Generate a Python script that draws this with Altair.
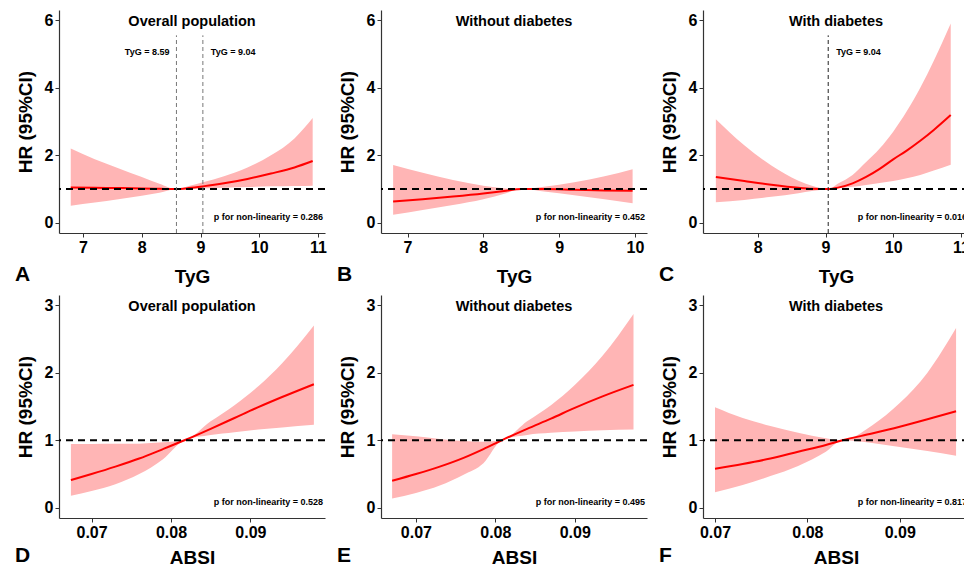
import altair as alt
import pandas as pd

FONT = "Liberation Sans"
W, H = 266, 223

# ---------------- data ----------------
# A: TyG, overall population
a_x = [6.79, 7.2, 7.6, 8.0, 8.3, 8.59, 8.8, 9.04, 9.4, 9.8, 10.2, 10.6, 10.91]
a_hr = [1.05, 1.04, 1.03, 1.02, 1.01, 1.00, 1.03, 1.08, 1.17, 1.30, 1.46, 1.64, 1.83]
a_lo = [0.51, 0.60, 0.70, 0.80, 0.89, 1.00, 1.01, 1.02, 1.04, 1.06, 1.08, 1.09, 1.10]
a_hi = [2.20, 1.88, 1.62, 1.36, 1.16, 1.00, 1.09, 1.20, 1.38, 1.64, 2.00, 2.50, 3.10]

# B: TyG, without diabetes
b_x = [6.81, 7.2, 7.6, 8.0, 8.3, 8.5, 8.8, 9.2, 9.6, 9.97]
b_hr = [0.63, 0.70, 0.78, 0.87, 0.95, 1.00, 1.00, 0.98, 0.96, 0.95]
b_lo = [0.24, 0.38, 0.53, 0.70, 0.88, 1.00, 0.93, 0.82, 0.70, 0.58]
b_hi = [1.71, 1.48, 1.27, 1.10, 1.02, 1.00, 1.07, 1.20, 1.38, 1.59]

# C: TyG, with diabetes
c_x = [7.38, 7.8, 8.2, 8.6, 8.8, 9.04, 9.2, 9.4, 9.6, 9.8, 10.0, 10.2, 10.4, 10.6, 10.85]
c_hr = [1.36, 1.24, 1.13, 1.04, 1.01, 1.00, 1.05, 1.17, 1.36, 1.60, 1.88, 2.14, 2.43, 2.75, 3.19]
c_lo = [0.61, 0.68, 0.77, 0.88, 0.94, 1.00, 1.03, 1.07, 1.12, 1.18, 1.24, 1.32, 1.42, 1.55, 1.72]
c_hi = [3.07, 2.30, 1.70, 1.25, 1.10, 1.00, 1.18, 1.42, 1.80, 2.20, 2.70, 3.30, 4.00, 4.80, 5.90]

# D: ABSI, overall population
d_x = [0.0674, 0.070, 0.073, 0.076, 0.079, 0.0817, 0.085, 0.088, 0.091, 0.094, 0.098]
d_hr = [0.41, 0.50, 0.61, 0.73, 0.87, 1.00, 1.17, 1.33, 1.49, 1.64, 1.83]
d_lo = [0.18, 0.25, 0.35, 0.50, 0.72, 1.00, 1.08, 1.12, 1.16, 1.19, 1.23]
d_hi = [0.945, 0.945, 0.947, 0.95, 0.97, 1.00, 1.28, 1.52, 1.80, 2.14, 2.70]

# E: ABSI, without diabetes
e_x = [0.067, 0.070, 0.073, 0.076, 0.0785, 0.0808, 0.084, 0.087, 0.090, 0.0935, 0.0974]
e_hr = [0.40, 0.50, 0.61, 0.74, 0.87, 1.00, 1.17, 1.32, 1.48, 1.65, 1.82]
e_lo = [0.14, 0.22, 0.33, 0.49, 0.66, 1.00, 1.08, 1.11, 1.13, 1.15, 1.16]
e_hi = [1.09, 1.06, 1.02, 0.99, 0.98, 1.00, 1.28, 1.52, 1.82, 2.25, 2.87]

# F: ABSI, with diabetes
f_x = [0.070, 0.073, 0.076, 0.079, 0.082, 0.0838, 0.087, 0.090, 0.093, 0.0961]
f_hr = [0.58, 0.65, 0.73, 0.83, 0.93, 1.00, 1.10, 1.20, 1.31, 1.43]
f_lo = [0.23, 0.34, 0.47, 0.62, 0.83, 1.00, 0.96, 0.90, 0.84, 0.77]
f_hi = [1.49, 1.33, 1.21, 1.11, 1.03, 1.00, 1.22, 1.55, 2.00, 2.66]

titles = ["Overall population", "Without diabetes", "With diabetes"]
letters = ["A", "B", "C", "D", "E", "F"]
p_values = ["0.286", "0.452", "0.016", "0.528", "0.495", "0.817"]
tyg_ticks = [[7, 8, 9, 10, 11], [7, 8, 9, 10], [8, 9, 10, 11]]
absi_ticks = [0.07, 0.08, 0.09]
top_yticks = [0, 2, 4, 6]
bot_yticks = [0, 1, 2, 3]
HR_REF = 1
a_cut = [8.59, 9.04]
c_cut = [9.04]
cut_label_y = 5.05
cut_line_top = 5.55

x_domains = [[6.59, 11.12], [6.65, 10.16], [7.19, 11.12],
             [0.0659, 0.0994], [0.0656, 0.0991], [0.0687, 0.0975]]
top_ydom = [-0.3, 6.3]
bot_ydom = [-0.15, 3.15]


def panel(x, hr, lo, hi, xdom, xticks, xfmt, ydom, yticks, xtitle, title,
          letter, pval, cuts=None, cut_color="#666", tpad=12, lety=48):
    df = pd.DataFrame({"x": x, "hr": hr, "lo": lo, "hi": hi})
    xs = alt.Scale(domain=xdom, nice=False, zero=False)
    ys = alt.Scale(domain=ydom, nice=False, zero=False)
    base = alt.Chart(df)
    band = base.mark_area(color="#FFB5B5", opacity=1, interpolate="monotone").encode(
        x=alt.X("x:Q", scale=xs,
                axis=alt.Axis(values=xticks, format=xfmt, title=xtitle,
                              titlePadding=tpad)),
        y=alt.Y("lo:Q", scale=ys,
                axis=alt.Axis(values=yticks, format="d", title="HR (95%CI)",
                              titlePadding=9)),
        y2="hi:Q",
    )
    line = base.mark_line(color="#FF0000", strokeWidth=2, interpolate="monotone").encode(
        x="x:Q", y="hr:Q")
    ref = alt.Chart(pd.DataFrame({"ref": [HR_REF]})).mark_rule(
        color="black", strokeWidth=2, strokeDash=[7, 5]).encode(y="ref:Q")
    layers = [band, line, ref]
    if cuts:
        cdf = pd.DataFrame({"x": cuts, "y0": [ydom[0]] * len(cuts),
                            "y1": [cut_line_top] * len(cuts),
                            "ly": [cut_label_y] * len(cuts),
                            "lab": [f"TyG = {c:.2f}" for c in cuts]})
        vr = alt.Chart(cdf).mark_rule(color=cut_color, strokeWidth=1,
                                      strokeDash=[4, 3]).encode(
            x="x:Q", y="y0:Q", y2="y1:Q")
        layers.append(vr)
        if len(cuts) == 2:
            left = alt.Chart(cdf.iloc[[0]]).mark_text(
                align="right", dx=-7, font=FONT, fontWeight="bold", fontSize=9,
                color="black", baseline="middle").encode(
                x="x:Q", y="ly:Q", text="lab:N")
            right = alt.Chart(cdf.iloc[[1]]).mark_text(
                align="left", dx=8, font=FONT, fontWeight="bold", fontSize=9,
                color="black", baseline="middle").encode(
                x="x:Q", y="ly:Q", text="lab:N")
            layers += [left, right]
        else:
            right = alt.Chart(cdf).mark_text(
                align="left", dx=8, font=FONT, fontWeight="bold", fontSize=9,
                color="black", baseline="middle").encode(
                x="x:Q", y="ly:Q", text="lab:N")
            layers.append(right)
    ttl = alt.Chart(pd.DataFrame({"t": [title]})).mark_text(
        font=FONT, fontWeight="bold", fontSize=14.5, color="black",
        align="center", baseline="middle").encode(
        text="t:N", x=alt.value(W / 2), y=alt.value(12))
    ptxt = alt.Chart(pd.DataFrame({"t": [f"p for non-linearity = {pval}"]})).mark_text(
        font=FONT, fontWeight="bold", fontSize=9, color="black",
        align="right", baseline="middle").encode(
        text="t:N", x=alt.value(W - 2), y=alt.value(H - 16))
    let = alt.Chart(pd.DataFrame({"t": [letter]})).mark_text(
        font=FONT, fontWeight="bold", fontSize=21, color="black",
        align="left", baseline="alphabetic").encode(
        text="t:N", x=alt.value(-44), y=alt.value(H + lety))
    layers += [ttl, ptxt, let]
    return alt.layer(*layers).properties(width=W, height=H)


pa = panel(a_x, a_hr, a_lo, a_hi, x_domains[0], tyg_ticks[0], "d", top_ydom, top_yticks,
           "TyG", titles[0], letters[0], p_values[0], a_cut, "#777")
pb = panel(b_x, b_hr, b_lo, b_hi, x_domains[1], tyg_ticks[1], "d", top_ydom, top_yticks,
           "TyG", titles[1], letters[1], p_values[1])
pc = panel(c_x, c_hr, c_lo, c_hi, x_domains[2], tyg_ticks[2], "d", top_ydom, top_yticks,
           "TyG", titles[2], letters[2], p_values[2], c_cut, "#222")
pd_ = panel(d_x, d_hr, d_lo, d_hi, x_domains[3], absi_ticks, ".2f", bot_ydom, bot_yticks,
            "ABSI", titles[0], letters[3], p_values[3], tpad=8, lety=44)
pe = panel(e_x, e_hr, e_lo, e_hi, x_domains[4], absi_ticks, ".2f", bot_ydom, bot_yticks,
           "ABSI", titles[1], letters[4], p_values[4], tpad=8, lety=44)
pf = panel(f_x, f_hr, f_lo, f_hi, x_domains[5], absi_ticks, ".2f", bot_ydom, bot_yticks,
           "ABSI", titles[2], letters[5], p_values[5], tpad=8, lety=44)

chart = alt.concat(pa, pb, pc, pd_, pe, pf, columns=3,
                   spacing={"row": 62, "column": 56}, bounds="flush").properties(
    padding={"left": 15, "top": 10, "right": -6, "bottom": 0},
    background="white",
).resolve_scale(x="independent", y="independent").configure_axis(
    labelFont=FONT, labelFontWeight="bold", labelFontSize=16, labelColor="black",
    titleFont=FONT, titleFontWeight="bold", titleFontSize=19, titleColor="black",
    domainColor="#333", domainWidth=1.2, tickColor="#333", tickSize=4,
    labelPadding=2, grid=False,
).configure_view(stroke=None)

chart.save("out.html", embed_options={"renderer": "svg", "actions": False})
